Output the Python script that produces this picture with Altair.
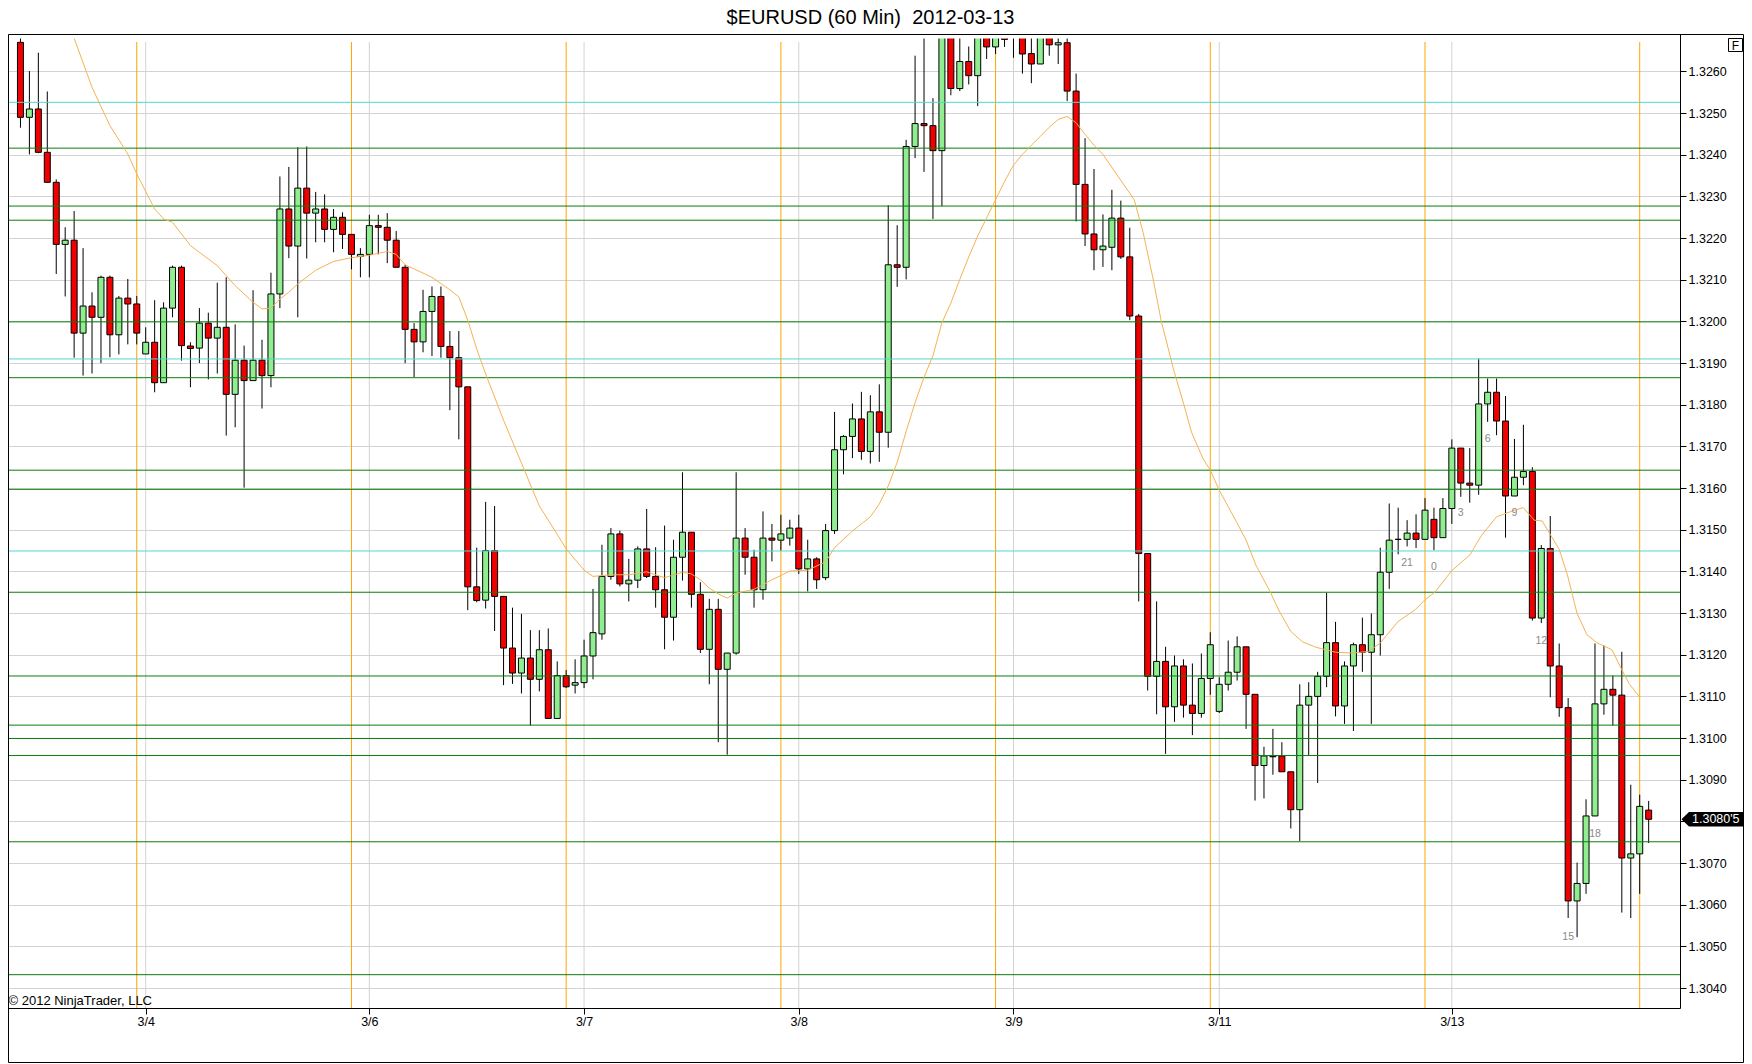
import altair as alt
import pandas as pd

# ---------------- data ----------------
OPEN = [
1.32670, 1.32490, 1.32510, 1.32406, 1.32334, 1.32185, 1.32195, 1.31972, 1.32037, 1.32010,
1.32106, 1.31968, 1.32056, 1.32042, 1.31922, 1.31950, 1.31853, 1.32032, 1.32130, 1.31941,
1.31936, 1.31996, 1.31960, 1.31986, 1.31825, 1.31907, 1.31858, 1.31907, 1.31870, 1.32066,
1.32270, 1.32181, 1.32320, 1.32260, 1.32270, 1.32221, 1.32250, 1.32209, 1.32156, 1.32161,
1.32230, 1.32226, 1.32195, 1.32130, 1.31981, 1.31951, 1.32024, 1.32060, 1.31940, 1.31913,
1.31843, 1.31363, 1.31331, 1.31450, 1.31340, 1.31216, 1.31156, 1.31192, 1.31141, 1.31212,
1.31047, 1.31150, 1.31127, 1.31133, 1.31197, 1.31250, 1.31388, 1.31490, 1.31370, 1.31379,
1.31454, 1.31388, 1.31356, 1.31290, 1.31434, 1.31494, 1.31345, 1.31213, 1.31309, 1.31165,
1.31204, 1.31480, 1.31434, 1.31356, 1.31480, 1.31475, 1.31480, 1.31504, 1.31406, 1.31430,
1.31385, 1.31498, 1.31692, 1.31724, 1.31766, 1.31688, 1.31783, 1.31734, 1.32136, 1.32130,
1.32420, 1.32475, 1.32470, 1.32410, 1.32700, 1.32559, 1.32624, 1.32590, 1.32700, 1.32659,
1.32710, 1.32720, 1.32700, 1.32643, 1.32618, 1.32700, 1.32664, 1.32669, 1.32553, 1.32329,
1.32210, 1.32172, 1.32178, 1.32248, 1.32155, 1.32013, 1.31443, 1.31148, 1.31184, 1.31075,
1.31173, 1.31079, 1.31059, 1.31143, 1.31064, 1.31129, 1.31158, 1.31219, 1.31105, 1.30934,
1.30957, 1.30957, 1.30919, 1.30828, 1.31079, 1.31100, 1.31148, 1.31229, 1.31077, 1.31173,
1.31224, 1.31206, 1.31248, 1.31398, 1.31477, 1.31477, 1.31492, 1.31477, 1.31525, 1.31481,
1.31551, 1.31696, 1.31612, 1.31607, 1.31802, 1.31830, 1.31761, 1.31581, 1.31626, 1.31640,
1.31288, 1.31455, 1.31173, 1.31073, 1.30609, 1.30651, 1.30813, 1.31082, 1.31117, 1.31103,
1.30712, 1.30722, 1.30827,
]
HIGH = [
1.32700, 1.32601, 1.32645, 1.32552, 1.32341, 1.32226, 1.32265, 1.32176, 1.32070, 1.32110,
1.32110, 1.32061, 1.32102, 1.32061, 1.31986, 1.32051, 1.32046, 1.32134, 1.32134, 1.31950,
1.32032, 1.32021, 1.32093, 1.32106, 1.31993, 1.31942, 1.32075, 1.31956, 1.32117, 1.32348,
1.32371, 1.32418, 1.32420, 1.32311, 1.32305, 1.32270, 1.32262, 1.32209, 1.32176, 1.32256,
1.32256, 1.32260, 1.32217, 1.32136, 1.31996, 1.32076, 1.32084, 1.32084, 1.31977, 1.31977,
1.31843, 1.31457, 1.31567, 1.31557, 1.31340, 1.31313, 1.31298, 1.31259, 1.31259, 1.31263,
1.31184, 1.31163, 1.31189, 1.31236, 1.31358, 1.31464, 1.31504, 1.31498, 1.31430, 1.31460,
1.31550, 1.31458, 1.31510, 1.31476, 1.31638, 1.31494, 1.31374, 1.31334, 1.31334, 1.31204,
1.31638, 1.31504, 1.31452, 1.31544, 1.31514, 1.31536, 1.31524, 1.31536, 1.31476, 1.31434,
1.31514, 1.31783, 1.31727, 1.31803, 1.31831, 1.31823, 1.31849, 1.32279, 1.32231, 1.32436,
1.32638, 1.32700, 1.32536, 1.32740, 1.32740, 1.32720, 1.32660, 1.32730, 1.32730, 1.32720,
1.32740, 1.32750, 1.32730, 1.32700, 1.32720, 1.32720, 1.32700, 1.32700, 1.32595, 1.32440,
1.32366, 1.32257, 1.32316, 1.32290, 1.32225, 1.32018, 1.31443, 1.31328, 1.31219, 1.31198,
1.31189, 1.31179, 1.31203, 1.31254, 1.31146, 1.31234, 1.31244, 1.31219, 1.31105, 1.30979,
1.31022, 1.30990, 1.30919, 1.31129, 1.31134, 1.31159, 1.31349, 1.31279, 1.31184, 1.31229,
1.31289, 1.31299, 1.31457, 1.31563, 1.31553, 1.31523, 1.31537, 1.31576, 1.31553, 1.31576,
1.31717, 1.31696, 1.31696, 1.31911, 1.31863, 1.31863, 1.31821, 1.31718, 1.31752, 1.31650,
1.31463, 1.31533, 1.31227, 1.31096, 1.30701, 1.30853, 1.31227, 1.31222, 1.31150, 1.31207,
1.30888, 1.30864, 1.30849,
]
LOW = [
1.32465, 1.32401, 1.32404, 1.32334, 1.32114, 1.32060, 1.31913, 1.31870, 1.31875, 1.31900,
1.31914, 1.31921, 1.31945, 1.31945, 1.31922, 1.31830, 1.31853, 1.32010, 1.31906, 1.31842,
1.31900, 1.31861, 1.31875, 1.31726, 1.31746, 1.31601, 1.31858, 1.31791, 1.31842, 1.32032,
1.32152, 1.32010, 1.32151, 1.32190, 1.32190, 1.32166, 1.32174, 1.32125, 1.32106, 1.32106,
1.32161, 1.32140, 1.32130, 1.31900, 1.31866, 1.31926, 1.31917, 1.31913, 1.31787, 1.31717,
1.31307, 1.31326, 1.31311, 1.31257, 1.31127, 1.31130, 1.31107, 1.31030, 1.31112, 1.31047,
1.31047, 1.31120, 1.31107, 1.31120, 1.31141, 1.31236, 1.31380, 1.31364, 1.31328, 1.31360,
1.31384, 1.31313, 1.31213, 1.31234, 1.31378, 1.31313, 1.31204, 1.31129, 1.30990, 1.30960,
1.31200, 1.31392, 1.31313, 1.31332, 1.31424, 1.31450, 1.31462, 1.31394, 1.31352, 1.31358,
1.31379, 1.31490, 1.31633, 1.31672, 1.31668, 1.31659, 1.31663, 1.31697, 1.32083, 1.32101,
1.32392, 1.32359, 1.32246, 1.32277, 1.32543, 1.32553, 1.32569, 1.32517, 1.32630, 1.32642,
1.32659, 1.32633, 1.32595, 1.32572, 1.32618, 1.32638, 1.32618, 1.32529, 1.32240, 1.32181,
1.32123, 1.32131, 1.32123, 1.32150, 1.32003, 1.31328, 1.31114, 1.31057, 1.30962, 1.31039,
1.31049, 1.31007, 1.31049, 1.31104, 1.31060, 1.31114, 1.31138, 1.31022, 1.30850, 1.30855,
1.30912, 1.30919, 1.30783, 1.30753, 1.30959, 1.30892, 1.31122, 1.31052, 1.31034, 1.31017,
1.31159, 1.31034, 1.31198, 1.31358, 1.31441, 1.31460, 1.31456, 1.31477, 1.31451, 1.31481,
1.31514, 1.31579, 1.31565, 1.31584, 1.31759, 1.31727, 1.31481, 1.31581, 1.31607, 1.31282,
1.31276, 1.31098, 1.31051, 1.30568, 1.30522, 1.30626, 1.30813, 1.31056, 1.31030, 1.30581,
1.30568, 1.30626, 1.30748,
]
CLOSE = [
1.32490, 1.32510, 1.32406, 1.32334, 1.32185, 1.32195, 1.31972, 1.32037, 1.32010, 1.32106,
1.31968, 1.32056, 1.32042, 1.31972, 1.31950, 1.31853, 1.32032, 1.32130, 1.31942, 1.31935,
1.31996, 1.31960, 1.31986, 1.31825, 1.31907, 1.31858, 1.31907, 1.31870, 1.32066, 1.32270,
1.32181, 1.32320, 1.32260, 1.32270, 1.32221, 1.32250, 1.32209, 1.32161, 1.32161, 1.32230,
1.32226, 1.32195, 1.32130, 1.31981, 1.31951, 1.32024, 1.32060, 1.31940, 1.31913, 1.31843,
1.31363, 1.31330, 1.31450, 1.31340, 1.31216, 1.31156, 1.31192, 1.31141, 1.31212, 1.31047,
1.31150, 1.31123, 1.31133, 1.31197, 1.31253, 1.31388, 1.31490, 1.31370, 1.31379, 1.31454,
1.31388, 1.31356, 1.31290, 1.31434, 1.31494, 1.31345, 1.31213, 1.31309, 1.31165, 1.31204,
1.31480, 1.31434, 1.31356, 1.31480, 1.31475, 1.31490, 1.31504, 1.31406, 1.31430, 1.31380,
1.31498, 1.31692, 1.31724, 1.31766, 1.31688, 1.31783, 1.31734, 1.32136, 1.32130, 1.32420,
1.32475, 1.32470, 1.32410, 1.32700, 1.32559, 1.32624, 1.32590, 1.32700, 1.32659, 1.32700,
1.32677, 1.32705, 1.32642, 1.32618, 1.32700, 1.32664, 1.32669, 1.32553, 1.32329, 1.32210,
1.32172, 1.32181, 1.32248, 1.32155, 1.32013, 1.31443, 1.31148, 1.31184, 1.31075, 1.31173,
1.31079, 1.31059, 1.31143, 1.31224, 1.31129, 1.31158, 1.31219, 1.31105, 1.30934, 1.30957,
1.30955, 1.30919, 1.30828, 1.31079, 1.31100, 1.31148, 1.31229, 1.31077, 1.31173, 1.31224,
1.31206, 1.31248, 1.31398, 1.31475, 1.31477, 1.31492, 1.31477, 1.31547, 1.31481, 1.31551,
1.31696, 1.31612, 1.31607, 1.31802, 1.31830, 1.31761, 1.31581, 1.31626, 1.31640, 1.31288,
1.31455, 1.31173, 1.31073, 1.30609, 1.30651, 1.30813, 1.31082, 1.31117, 1.31103, 1.30712,
1.30722, 1.30836, 1.30805,
]

# moving average at these bar positions
MA_BAR = [6, 8, 10, 12, 13, 15, 16, 17, 19, 22, 24, 26, 27, 28, 29, 30, 31, 33, 35, 37,
          39, 41, 42, 43, 45, 46, 48, 49, 50, 51, 52, 54, 56, 58, 60, 61, 63, 64, 66, 68,
          70, 72, 74, 75, 76, 77, 78, 79, 80, 82, 83, 84, 85, 86, 88, 90, 91, 93, 95, 96,
          97, 98, 99, 100, 101, 102, 103, 104, 105, 106, 107, 108, 109, 110, 111, 112, 113,
          114, 115, 116, 117, 118, 119, 120, 121, 124.5, 125.5, 126.6, 127.5, 128.9, 130,
          130.9, 132.2, 133, 134, 135.9, 137, 138.1, 139.6, 140.7, 142, 143.3, 144.8, 147,
          148.8, 150.7, 152, 154, 155.9, 157, 158.1, 160, 162, 163.3, 165, 167, 168, 169.2,
          170.1, 172, 172.9, 174, 175.1, 176.2, 177.9, 178.9, 179.8, 181]
MA_VAL = [1.32680, 1.32562, 1.32470, 1.32402, 1.32354, 1.32270, 1.32246, 1.32238, 1.32182, 1.32134,
          1.32086, 1.32046, 1.32030, 1.32032, 1.32054, 1.32070, 1.32090, 1.32123, 1.32144, 1.32153,
          1.32159, 1.32168, 1.32161, 1.32136, 1.32116, 1.32106, 1.32076, 1.32059, 1.32003, 1.31934,
          1.31874, 1.31763, 1.31660, 1.31557, 1.31489, 1.31454, 1.31403, 1.31388, 1.31392, 1.31392,
          1.31399, 1.31385, 1.31398, 1.31394, 1.31380, 1.31360, 1.31346, 1.31336, 1.31348, 1.31357,
          1.31368, 1.31380, 1.31390, 1.31401, 1.31403, 1.31423, 1.31457, 1.31497, 1.31531, 1.31562,
          1.31605, 1.31662, 1.31736, 1.31805, 1.31866, 1.31918, 1.31997, 1.32044, 1.32101, 1.32155,
          1.32205, 1.32249, 1.32292, 1.32336, 1.32375, 1.32401, 1.32423, 1.32444, 1.32466, 1.32485,
          1.32492, 1.32477, 1.32449, 1.32423, 1.32401, 1.32292, 1.32213, 1.32103, 1.32003, 1.31884,
          1.31804, 1.31734, 1.31670, 1.31643, 1.31595, 1.31520, 1.31475, 1.31415, 1.31355, 1.31305,
          1.31256, 1.31231, 1.31218, 1.31206, 1.31204, 1.31208, 1.31228, 1.31280, 1.31308, 1.31332,
          1.31350, 1.31402, 1.31439, 1.31486, 1.31531, 1.31547, 1.31553, 1.31523, 1.31521, 1.31453,
          1.31393, 1.31299, 1.31248, 1.31229, 1.31212, 1.31168, 1.31131, 1.31098]

GREEN_LEVELS = [1.32416, 1.32277, 1.32243, 1.31999, 1.31865, 1.31643, 1.31597, 1.31350,
                1.31149, 1.31031, 1.30999, 1.30958, 1.30751, 1.30432]
CYAN_LEVELS = [1.32526, 1.31910, 1.31449]

SESSION_BARS = [13, 37, 61, 85, 109, 133, 157, 181]
DATE_BARS = [14, 39, 63, 87, 111, 134, 160]
DATE_LABELS = ["3/4", "3/6", "3/7", "3/8", "3/9", "3/11", "3/13"]

Y_TICKS = [1.3040, 1.3050, 1.3060, 1.3070, 1.3080, 1.3090, 1.3100, 1.3110, 1.3120,
           1.3130, 1.3140, 1.3150, 1.3160, 1.3170, 1.3180, 1.3190, 1.3200, 1.3210,
           1.3220, 1.3230, 1.3240, 1.3250, 1.3260]

COUNT_BARS = [155, 158, 161, 164, 167, 170, 173, 176]
COUNT_PRICES = [1.31420, 1.31410, 1.31540, 1.31718, 1.31540, 1.31233, 1.30522, 1.30770]
COUNT_TEXT = ["21", "0", "3", "6", "9", "12", "15", "18"]

LAST_PRICE = [1.30805]
LAST_LABEL = ["1.3080'5"]

TITLE = "$EURUSD (60 Min)  2012-03-13"
COPYRIGHT = "\u00a9 2012 NinjaTrader, LLC"

# ---------------- styling ----------------
FONT = "Liberation Sans"
UP = "#90EE90"
DOWN = "#F00000"
GREEN_LINE = "#0B7D0B"
CYAN_LINE = "#4FD8D0"
ORANGE = "#FFA500"
MA_COLOR = "#F4B352"
GRID = "#D3D3D3"

W, H = 1672, 974
XS = alt.Scale(domain=[-0.8333, 184.9444], nice=False, zero=False)
YS = alt.Scale(domain=[1.30352, 1.32690], nice=False, zero=False)

bars = pd.DataFrame({"bar": list(range(len(OPEN))), "open": OPEN, "high": HIGH,
                     "low": LOW, "close": CLOSE})
ma = pd.DataFrame({"bar": MA_BAR, "value": MA_VAL})
greens = pd.DataFrame({"level": GREEN_LEVELS})
cyans = pd.DataFrame({"level": CYAN_LEVELS})
sessions = pd.DataFrame({"bar": SESSION_BARS})
dates = pd.DataFrame({"bar": DATE_BARS})
counts = pd.DataFrame({"bar": COUNT_BARS, "price": COUNT_PRICES, "text": COUNT_TEXT})
last = pd.DataFrame({"price": LAST_PRICE, "label": LAST_LABEL})
one = alt.Data(values=[{"title": TITLE.replace("  ", " \u00a0"), "copy": COPYRIGHT, "f": "F"}])

label_expr = " : ".join(f"datum.value == {b} ? '{l}'" for b, l in zip(DATE_BARS, DATE_LABELS)) + " : ''"
# the last-price tag covers the 1.3080 label in the reference
y_label_expr = f"abs(datum.value - {LAST_PRICE[0]}) < 0.0003 ? '' : format(datum.value, '.4f')"

x_axis = alt.Axis(values=DATE_BARS, labelExpr=label_expr, grid=False, tickSize=6,
                  tickColor="black", domainColor="black", labelColor="black",
                  labelFont=FONT, labelFontSize=12.5, labelPadding=1, title=None,
                  labelFlush=False, labelOverlap=False)
y_axis = alt.Axis(orient="right", values=Y_TICKS, labelExpr=y_label_expr, grid=True,
                  gridColor=GRID, tickSize=6, tickColor="black", domainColor="black",
                  labelColor="black", labelFont=FONT, labelFontSize=12.5, labelPadding=2,
                  title=None, labelFlush=False, labelOverlap=False)

def X(field="bar:Q"):
    return alt.X(field, scale=XS, axis=x_axis)

def Y(field):
    return alt.Y(field, scale=YS, axis=y_axis)

date_rules = alt.Chart(dates).mark_rule(color=GRID, strokeWidth=1).encode(
    x=X(), y=alt.value(8), y2=alt.value(H))
session_rules = alt.Chart(sessions).mark_rule(color=ORANGE, strokeWidth=1).encode(
    x=X(), y=alt.value(8), y2=alt.value(H))

wicks = alt.Chart(bars).mark_rule(color="black", strokeWidth=1, clip=True).encode(
    x=X(), y=Y("low:Q"), y2="high:Q")

bodies = alt.Chart(bars).mark_bar(width=6, stroke="black", strokeWidth=1, clip=True).encode(
    x=X(), y=Y("open:Q"), y2="close:Q",
    fill=alt.condition("datum.close >= datum.open", alt.value(UP), alt.value(DOWN)))

green_rules = alt.Chart(greens).mark_rule(color=GREEN_LINE, strokeWidth=1).encode(
    y=Y("level:Q"), x=alt.value(0), x2=alt.value(W))
cyan_rules = alt.Chart(cyans).mark_rule(color=CYAN_LINE, strokeWidth=1).encode(
    y=Y("level:Q"), x=alt.value(0), x2=alt.value(W))

ma_line = alt.Chart(ma).mark_line(color=MA_COLOR, strokeWidth=1, clip=True).encode(
    x=X(), y=Y("value:Q"), order="bar:Q")

count_text = alt.Chart(counts).mark_text(font=FONT, fontSize=10.5, color="#8A8A8A").encode(
    x=X(), y=Y("price:Q"), text="text:N")

top_band = alt.Chart(one).mark_rect(color="white").encode(
    x=alt.value(0.5), x2=alt.value(W - 0.5), y=alt.value(0.5), y2=alt.value(4.5))

frame = alt.Chart(one).mark_rect(fillOpacity=0, stroke="black", strokeWidth=1).encode(
    x=alt.value(0.5), x2=alt.value(1735.5), y=alt.value(0.5), y2=alt.value(1028.5))

f_box = alt.Chart(one).mark_rect(fill="white", stroke="black", strokeWidth=1).encode(
    x=alt.value(1720.5), x2=alt.value(1734.5), y=alt.value(4.5), y2=alt.value(17.5))
f_text = alt.Chart(one).mark_text(font=FONT, fontSize=12, color="black", align="center",
                                   baseline="middle").encode(
    x=alt.value(1727.5), y=alt.value(11.5), text="f:N")

title = alt.Chart(one).mark_text(font=FONT, fontSize=20, color="black", align="center",
                                  baseline="alphabetic").encode(
    x=alt.value(862.5), y=alt.value(-10.5), text="title:N")

copyright_text = alt.Chart(one).mark_text(font=FONT, fontSize=13, color="black", align="left",
                                           baseline="alphabetic").encode(
    x=alt.value(0.5), y=alt.value(971), text="copy:N")

TAG = "M-1,0L-0.756,-0.236L1,-0.236L1,0.236L-0.756,0.236Z"
tag = alt.Chart(last).mark_point(shape=TAG, filled=True, size=3782, color="black",
                                  opacity=1, strokeWidth=0).encode(
    x=alt.value(1704.25), y=Y("price:Q"))
tag_text = alt.Chart(last).mark_text(font=FONT, fontSize=12.5, color="white", align="left",
                                      baseline="middle").encode(
    x=alt.value(1684), y=Y("price:Q"), text="label:N")

chart = alt.layer(
    date_rules, session_rules, wicks, bodies, green_rules, cyan_rules, ma_line,
    count_text, top_band, frame, f_box, f_text, title, copyright_text, tag, tag_text
).properties(
    width=W, height=H,
    padding={"left": 0, "top": 26, "right": 64, "bottom": 56},
    autosize=alt.AutoSizeParams(type="none"),
    background="white",
).configure_view(strokeOpacity=0)

chart.save("out.html", embed_options={"renderer": "svg", "actions": False})
